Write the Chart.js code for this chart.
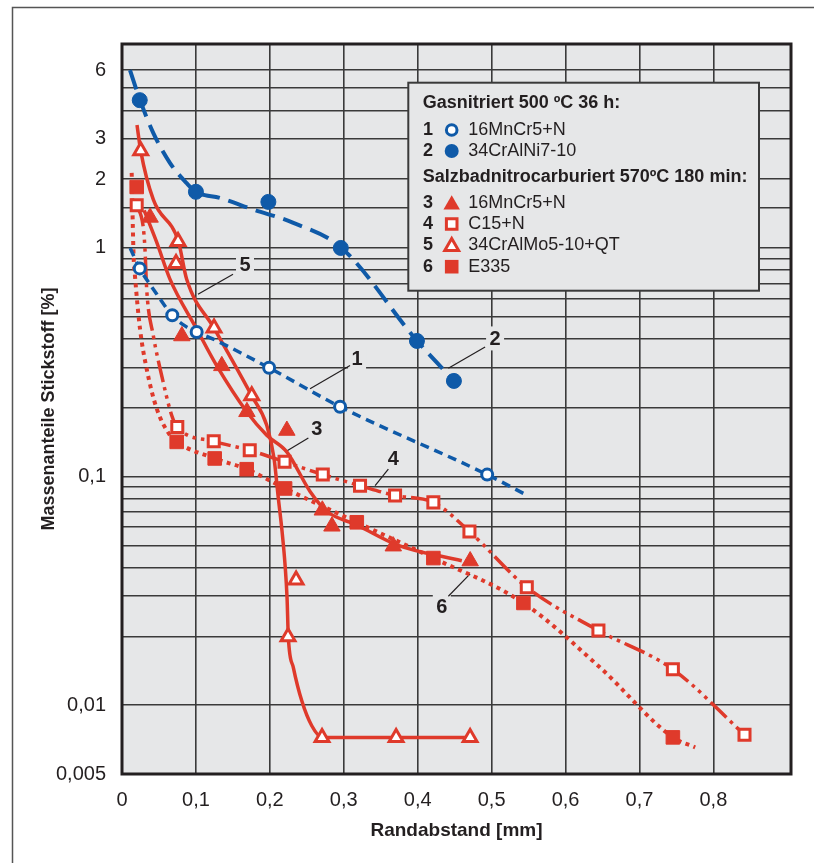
<!DOCTYPE html>
<html><head><meta charset="utf-8">
<script src="https://cdn.jsdelivr.net/npm/chart.js@4/dist/chart.umd.min.js"></script>
<style>html,body{margin:0;padding:0;background:#fff;}</style>
</head><body>
<canvas id="c" width="814" height="863"></canvas>
<script>
const FONT = '"Liberation Sans", Arial, Helvetica, sans-serif';
const BLUE = '#0f5aa8';
const RED = '#df3a2b';
const PLOT_BG = '#e6e7e8';
const INK = '#231f20';

// ---- Axis ticks ----
const xTickValues = [0, 0.1, 0.2, 0.3, 0.4, 0.5, 0.6, 0.7, 0.8];
const xTickLabels = ['0', '0,1', '0,2', '0,3', '0,4', '0,5', '0,6', '0,7', '0,8'];
const yLabelValues = [0.005, 0.01, 0.1, 1, 2, 3, 6];
const yLabelTexts = ['0,005', '0,01', '0,1', '1', '2', '3', '6'];
const yGridValues = [0.005, 0.01, 0.02, 0.03, 0.04, 0.05, 0.06, 0.07, 0.08, 0.09,
  0.1, 0.2, 0.3, 0.4, 0.5, 0.6, 0.7, 0.8, 0.9, 1, 1.5, 2, 3, 4, 5, 6];

// ---- Series names ----
const groupTitles = ['Gasnitriert 500 ºC 36 h:', 'Salzbadnitrocarburiert 570ºC 180 min:'];
const seriesNames = ['16MnCr5+N', '34CrAlNi7-10', '16MnCr5+N', 'C15+N', '34CrAlMo5-10+QT', 'E335'];

// ---- 1: 16MnCr5+N gas nitrided (open circles) ----
const s1X = [0.024, 0.068, 0.101, 0.199, 0.295, 0.494];
const s1Y = [0.814, 0.508, 0.429, 0.299, 0.202, 0.102];
const c1X = [0.011, 0.024, 0.0424, 0.068, 0.0852, 0.101, 0.1235, 0.199, 0.295, 0.494, 0.543];
const c1Y = [1.0, 0.814, 0.66, 0.508, 0.456, 0.429, 0.399, 0.299, 0.202, 0.102, 0.0844];

// ---- 2: 34CrAlNi7-10 (filled circles) ----
const s2X = [0.024, 0.100, 0.198, 0.296, 0.399, 0.449];
const s2Y = [4.43, 1.76, 1.59, 1.0, 0.392, 0.262];
const c2X = [0.0108, 0.0244, 0.0424, 0.065, 0.0875, 0.100, 0.1326, 0.1777, 0.2318, 0.2963, 0.3992, 0.4493];
const c2Y = [5.99, 4.43, 3.18, 2.35, 1.92, 1.76, 1.654, 1.472, 1.288, 1.005, 0.392, 0.262];

// ---- 3: 16MnCr5+N salt bath (filled triangles) ----
const s3X = [0.038, 0.081, 0.135, 0.169, 0.223, 0.271, 0.284, 0.367, 0.471];
const s3Y = [1.36, 0.412, 0.305, 0.192, 0.159, 0.0712, 0.0606, 0.0496, 0.0427];
const c3X = [0.030, 0.047, 0.065, 0.1011, 0.1281, 0.1687, 0.1958, 0.2229, 0.2544, 0.277, 0.3176, 0.3717, 0.4597];
const c3Y = [1.46, 1.057, 0.729, 0.4416, 0.3055, 0.192, 0.1515, 0.1282, 0.0861, 0.0705, 0.0614, 0.0503, 0.0428];

// ---- 4: C15+N (open squares) ----
const s4X = [0.0199, 0.0748, 0.1241, 0.1728, 0.2199, 0.2716, 0.322, 0.3694, 0.4212, 0.470, 0.5476, 0.6445, 0.7452, 0.8421];
const s4Y = [1.536, 0.1648, 0.1426, 0.1303, 0.116, 0.1021, 0.0912, 0.0826, 0.0771, 0.0575, 0.0328, 0.0212, 0.01435, 0.00743];
const c4X = [0.0199, 0.0285, 0.031, 0.0334, 0.0424, 0.0537, 0.0673, 0.0748, 0.1241, 0.1728, 0.2199, 0.2716, 0.322, 0.3694, 0.4212, 0.470, 0.5476, 0.6445, 0.7452, 0.8421];
const c4Y = [1.536, 1.25, 1.0, 0.66, 0.413, 0.2765, 0.185, 0.1648, 0.1426, 0.1303, 0.116, 0.1021, 0.0912, 0.0826, 0.0771, 0.0575, 0.0328, 0.0212, 0.01435, 0.00743];

// ---- 5: 34CrAlMo5-10+QT (open triangles) ----
const s5X = [0.0253, 0.0758, 0.0731, 0.1245, 0.1755, 0.2355, 0.2246, 0.2706, 0.3708, 0.4709];
const s5Y = [2.66, 1.067, 0.856, 0.446, 0.2255, 0.0353, 0.0199, 0.00723, 0.00723, 0.00723];
const c5X = [0.0203, 0.0253, 0.0424, 0.0762, 0.0875, 0.1245, 0.1755, 0.1958, 0.2057, 0.2115, 0.2165, 0.2206, 0.2233, 0.225, 0.2318, 0.2432, 0.2567, 0.271, 0.4709];
const c5Y = [3.45, 2.66, 1.626, 1.07, 0.729, 0.446, 0.2255, 0.1675, 0.12, 0.0803, 0.0577, 0.041, 0.0294, 0.0199, 0.0146, 0.01045, 0.00813, 0.00723, 0.00723];

// ---- 6: E335 (filled squares) ----
const s6X = [0.0199, 0.074, 0.1254, 0.1687, 0.2206, 0.3176, 0.4212, 0.543, 0.7452];
const s6Y = [1.848, 0.1418, 0.12, 0.1077, 0.0887, 0.0631, 0.044, 0.028, 0.00723];
const c6X = [0.0131, 0.0157, 0.0176, 0.0244, 0.0334, 0.047, 0.065, 0.074, 0.1254, 0.1687, 0.2206, 0.3176, 0.4212, 0.543, 0.6468, 0.7452, 0.7754];
const c6Y = [2.13, 0.92, 0.751, 0.4416, 0.2955, 0.198, 0.1515, 0.1418, 0.12, 0.1077, 0.0887, 0.0631, 0.044, 0.028, 0.0146, 0.00723, 0.00654];

// ---- Curve labels (text position, leader line from -> to) in data units ----
const curveLabels = [
  {t: '1', x: 0.318, y: 0.327, lx1: 0.3085, ly1: 0.306, lx2: 0.2544, ly2: 0.242},
  {t: '2', x: 0.5047, y: 0.402, lx1: 0.4912, ly1: 0.3687, lx2: 0.4415, ly2: 0.2978},
  {t: '3', x: 0.2635, y: 0.162, lx1: 0.2521, ly1: 0.1476, lx2: 0.2206, ly2: 0.1282},
  {t: '4', x: 0.3671, y: 0.120, lx1: 0.3603, ly1: 0.1077, lx2: 0.3424, ly2: 0.0912},
  {t: '5', x: 0.1664, y: 0.847, lx1: 0.1502, ly1: 0.767, lx2: 0.1028, ly2: 0.627},
  {t: '6', x: 0.4326, y: 0.0271, lx1: 0.4415, ly1: 0.02996, lx2: 0.4709, ly2: 0.0375}
];

const pts = (xs, ys) => xs.map((x, i) => ({x, y: ys[i]}));

function curve(xs, ys, color, dash, width) {
  return {type: 'line', data: pts(xs, ys), borderColor: color, borderWidth: width,
    borderDash: dash, borderCapStyle: 'butt', pointRadius: 0, fill: false,
    cubicInterpolationMode: 'monotone', order: 2};
}
function markers(xs, ys, style, r, bg, border, bw) {
  return {type: 'line', data: pts(xs, ys), showLine: false, pointStyle: style,
    pointRadius: r, pointBackgroundColor: bg, pointBorderColor: border,
    pointBorderWidth: bw, order: 1};
}

// ---- drawing helpers for the legend ----
function circ(ctx, x, y, r, fill, stroke, lw) {
  ctx.beginPath(); ctx.arc(x, y, r, 0, Math.PI * 2);
  if (fill) { ctx.fillStyle = fill; ctx.fill(); }
  if (stroke) { ctx.strokeStyle = stroke; ctx.lineWidth = lw; ctx.stroke(); }
}
function tri(ctx, x, y, r, fill, stroke, lw) {
  ctx.beginPath();
  for (let k = 0; k < 3; k++) {
    const a = k * 2 * Math.PI / 3;
    const px = x + Math.sin(a) * r, py = y - Math.cos(a) * r;
    k ? ctx.lineTo(px, py) : ctx.moveTo(px, py);
  }
  ctx.closePath();
  if (fill) { ctx.fillStyle = fill; ctx.fill(); }
  if (stroke) { ctx.strokeStyle = stroke; ctx.lineWidth = lw; ctx.stroke(); }
}
function sq(ctx, x, y, h, fill, stroke, lw) {
  ctx.beginPath(); ctx.rect(x - h, y - h, 2 * h, 2 * h);
  if (fill) { ctx.fillStyle = fill; ctx.fill(); }
  if (stroke) { ctx.strokeStyle = stroke; ctx.lineWidth = lw; ctx.stroke(); }
}

const overlay = {
  id: 'overlay',
  beforeDraw(chart) {
    const {ctx, chartArea: a} = chart;
    ctx.save();
    ctx.fillStyle = '#fff'; ctx.fillRect(0, 0, chart.width, chart.height);
    ctx.strokeStyle = '#555'; ctx.lineWidth = 1.5;
    ctx.beginPath(); ctx.moveTo(12.5, chart.height); ctx.lineTo(12.5, 7.5); ctx.lineTo(chart.width, 7.5); ctx.stroke();
    ctx.fillStyle = PLOT_BG; ctx.fillRect(a.left, a.top, a.right - a.left, a.bottom - a.top);
    ctx.restore();
  },
  beforeDatasetsDraw(chart) {
    const {ctx, chartArea: a, scales: {x, y}} = chart;
    ctx.save();
    // curve labels
    ctx.font = 'bold 20px ' + FONT;
    ctx.textAlign = 'center'; ctx.textBaseline = 'middle';
    curveLabels.forEach(l => {
      const px = x.getPixelForValue(l.x), py = y.getPixelForValue(l.y);
      ctx.fillStyle = PLOT_BG; ctx.fillRect(px - 9, py - 12, 18, 24);
      ctx.fillStyle = INK; ctx.fillText(l.t, px, py + 1);
      ctx.strokeStyle = INK; ctx.lineWidth = 1.2;
      ctx.beginPath();
      ctx.moveTo(x.getPixelForValue(l.lx1), y.getPixelForValue(l.ly1));
      ctx.lineTo(x.getPixelForValue(l.lx2), y.getPixelForValue(l.ly2));
      ctx.stroke();
    });
    // legend box
    const bx = a.left + 286.3, by = a.top + 38.7, bw = 350.7, bh = 208;
    ctx.fillStyle = PLOT_BG; ctx.fillRect(bx, by, bw, bh);
    ctx.strokeStyle = '#3a3a3a'; ctx.lineWidth = 2; ctx.strokeRect(bx, by, bw, bh);
    ctx.textAlign = 'left'; ctx.textBaseline = 'middle'; ctx.fillStyle = INK;
    const tx = bx + 14.4, numX = bx + 14.6, symX = bx + 43.4, nameX = bx + 60;
    ctx.font = 'bold 18px ' + FONT;
    ctx.fillText(groupTitles[0], tx, by + 20.3);
    ctx.fillText(groupTitles[1], tx, by + 94.6);
    const rows = [47.3, 68.3, 120.6, 141.3, 162.3, 184];
    rows.forEach((ry, i) => {
      const cy = by + ry;
      ctx.fillStyle = INK;
      ctx.font = 'bold 18px ' + FONT;
      ctx.fillText(String(i + 1), numX, cy);
      ctx.font = '18px ' + FONT;
      ctx.fillText(seriesNames[i], nameX, cy);
      if (i === 0) circ(ctx, symX, cy, 5.3, '#fff', BLUE, 3);
      if (i === 1) circ(ctx, symX, cy, 7, BLUE);
      if (i === 2) tri(ctx, symX, cy + 1.5, 9.5, RED);
      if (i === 3) sq(ctx, symX, cy, 5.3, '#fff', RED, 3);
      if (i === 4) tri(ctx, symX, cy + 1.5, 8, '#fff', RED, 3);
      if (i === 5) sq(ctx, symX, cy, 6.8, RED);
    });
    ctx.restore();
  },
  afterDatasetsDraw(chart) {
    const {ctx, chartArea: a} = chart;
    ctx.save();
    ctx.strokeStyle = INK; ctx.lineWidth = 3;
    ctx.strokeRect(a.left, a.top, a.right - a.left, a.bottom - a.top);
    ctx.restore();
  }
};

new Chart(document.getElementById('c'), {
  data: {
    datasets: [
      markers(s1X, s1Y, 'circle', 5.5, '#fff', BLUE, 3),
      markers(s2X, s2Y, 'circle', 7.5, BLUE, BLUE, 1),
      markers(s3X, s3Y, 'triangle', 9.5, RED, RED, 1),
      markers(s4X, s4Y, 'rect', 7.8, '#fff', RED, 3),
      markers(s5X, s5Y, 'triangle', 8, '#fff', RED, 3),
      markers(s6X, s6Y, 'rect', 9.6, RED, RED, 1),
      curve(c1X, c1Y, BLUE, [9, 6], 3.5),
      curve(c2X, c2Y, BLUE, [20, 9], 4),
      curve(c3X, c3Y, RED, [], 3.5),
      curve(c4X, c4Y, RED, [22, 5, 3.5, 5, 3.5, 5, 3.5, 5], 3.5),
      curve(c5X, c5Y, RED, [], 3.5),
      curve(c6X, c6Y, RED, [4, 4.5], 4)
    ]
  },
  options: {
    responsive: false, animation: false, devicePixelRatio: 1,
    layout: {padding: {left: 0, right: 23, top: 44, bottom: 0}},
    plugins: {legend: {display: false}, tooltip: {enabled: false}},
    scales: {
      x: {
        type: 'linear', min: 0, max: 0.905,
        afterBuildTicks: s => { s.ticks = xTickValues.map(v => ({value: v})); },
        afterFit: s => { s.height = 89; },
        ticks: {
          callback: v => { const i = xTickValues.findIndex(t => Math.abs(t - v) < 1e-9); return i >= 0 ? xTickLabels[i] : ''; },
          font: {family: FONT, size: 20}, color: INK, padding: 14, maxRotation: 0, autoSkip: false
        },
        grid: {color: '#3a3a3a', lineWidth: 1.6, drawTicks: false},
        border: {display: false},
        title: {display: true, text: 'Randabstand [mm]', color: INK,
          font: {family: FONT, size: 19, weight: 'bold'}, padding: {top: 0, bottom: 21}}
      },
      y: {
        type: 'logarithmic', min: 0.005, max: 7.8,
        afterBuildTicks: s => { s.ticks = yGridValues.map(v => ({value: v})); },
        afterFit: s => { s.width = 122; },
        ticks: {
          callback: v => { const i = yLabelValues.findIndex(t => Math.abs(t - v) / t < 1e-6); return i >= 0 ? yLabelTexts[i] : ''; },
          font: {family: FONT, size: 20}, color: INK, padding: 16, autoSkip: false
        },
        grid: {color: '#3a3a3a', lineWidth: 1.6, drawTicks: false},
        border: {display: false},
        title: {display: true, text: 'Massenanteile Stickstoff [%]', color: INK,
          font: {family: FONT, size: 18, weight: 'bold'}, padding: {top: 38, bottom: 0}}
      }
    }
  },
  plugins: [overlay]
});
</script>
</body></html>
